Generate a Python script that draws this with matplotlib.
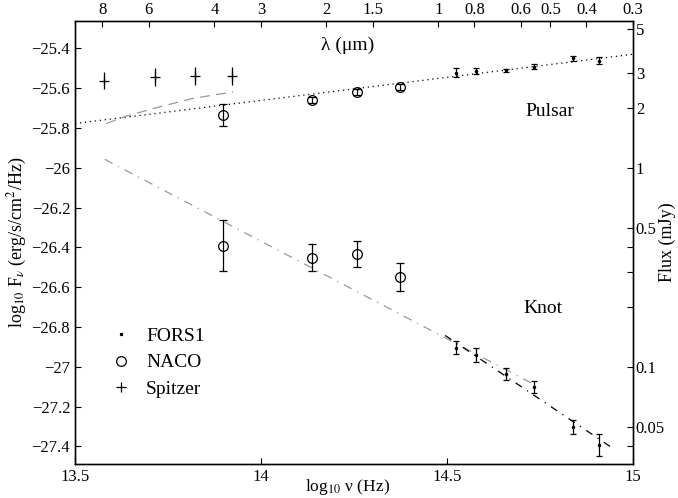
import numpy as np
import matplotlib
matplotlib.use("Agg")
import matplotlib.pyplot as plt
from matplotlib.lines import Line2D

plt.rcParams['font.family'] = ['Liberation Serif', 'DejaVu Serif']
plt.rcParams['mathtext.fontset'] = 'stix'

# frequencies (log10 nu, Hz)
nu_fors = [14.523, 14.578, 14.658, 14.733, 14.839, 14.909]
nu_naco = [13.897, 14.138, 14.257, 14.374]
nu_spitzer = [13.578, 13.716, 13.823, 13.923]

# pulsar fluxes, log10 F_nu (erg/s/cm2/Hz)
psr_fors = [-25.522, -25.514, -25.509, -25.492, -25.450, -25.462]
psr_fors_err = [0.023, 0.015, 0.008, 0.012, 0.012, 0.017]
psr_naco = [-25.735, -25.660, -25.620, -25.593]
psr_naco_err = [0.057, 0.016, 0.015, 0.016]
psr_spitzer = [-25.563, -25.543, -25.538, -25.539]
psr_spitzer_err = [0.043, 0.044, 0.044, 0.044]

# knot fluxes
knot_fors = [-26.903, -26.941, -27.037, -27.102, -27.300, -27.393]
knot_fors_err = [0.033, 0.035, 0.029, 0.031, 0.035, 0.057]
knot_naco = [-26.391, -26.451, -26.434, -26.550]
knot_naco_err = [0.128, 0.067, 0.066, 0.071]

# fitted / model curves
psr_fit_x = [13.5, 15.0]
psr_fit_y = [-25.777, -25.429]
psr_ir_x = [13.584, 13.638, 13.728, 13.817, 13.925]
psr_ir_y = [-25.777, -25.740, -25.693, -25.651, -25.618]
knot_fit_x = [13.580, 14.74]
knot_fit_y = [-25.957, -27.094]
knot_opt_x = [14.495, 14.952]
knot_opt_y = [-26.842, -27.417]

# top axis (wavelength, micron) and right axis (flux, mJy)
lam_ticks = [8, 6, 4, 3, 2, 1.5, 1, 0.8, 0.6, 0.5, 0.4, 0.3]
flux_ticks = [5, 3, 2, 1, 0.5, 0.4, 0.3, 0.2, 0.1, 0.05, 0.04]
flux_labels = ['5', '3', '2', '1', '0.5', '', '', '', '0.1', '0.05', '']

fig = plt.figure(figsize=(6.78, 4.98), dpi=100)
ax = fig.add_axes([0.1106, 0.0683, 0.823, 0.8895])

ax.plot(psr_fit_x, psr_fit_y, color='k', ls=(0, (1, 3)), lw=0.9)
ax.plot(psr_ir_x, psr_ir_y, color='0.6', ls=(0, (8, 5)), lw=0.9)
ax.plot(knot_fit_x, knot_fit_y, color='0.6', ls=(0, (7, 5, 1, 5)), lw=0.9)
ax.plot(knot_opt_x, knot_opt_y, color='k', ls=(0, (6, 5, 1, 5)), lw=0.9)

ekw = dict(color='k', elinewidth=0.9, capthick=0.9, ls='none')
ax.errorbar(nu_fors, psr_fors, yerr=psr_fors_err, fmt='.', ms=3, capsize=2, **ekw)
ax.errorbar(nu_fors, knot_fors, yerr=knot_fors_err, fmt='.', ms=3, capsize=2, **ekw)
ax.errorbar(nu_naco, psr_naco, yerr=psr_naco_err, fmt='o', ms=7, mfc='none',
            mew=0.9, capsize=3, **ekw)
ax.errorbar(nu_naco, knot_naco, yerr=knot_naco_err, fmt='o', ms=7, mfc='none',
            mew=0.9, capsize=3, **ekw)
ax.errorbar(nu_spitzer, psr_spitzer, yerr=psr_spitzer_err, fmt='+', ms=7,
            mew=0.9, capsize=0, **ekw)

ax.set_xlim(13.5, 15.0)
ax.set_ylim(-27.488, -25.262)
ax.set_xticks([13.5, 14, 14.5, 15])
ax.set_xticklabels(['13.5', '14', '14.5', '15'])
yt = np.round(np.arange(-27.4, -25.3, 0.2), 1)
ax.set_yticks(yt)
ax.set_yticklabels([('%g' % v).replace('-', '\u2212') for v in yt])
ax.tick_params(direction='in', length=4, labelsize=12, width=0.8)
ax.set_xlabel('log$_{10}$ \u03bd (Hz)', fontsize=12.5)
ax.xaxis.set_label_coords(0.489, -0.03)
ax.set_ylabel('log$_{10}$ F$_\u03bd$ (erg/s/cm$^2$/Hz)', fontsize=13, labelpad=2)

# top: wavelength
c = 2.998e14
ax2 = ax.twiny()
ax2.set_xlim(ax.get_xlim())
ax2.set_xticks(np.log10(c / np.array(lam_ticks)))
ax2.set_xticklabels(['%g' % l for l in lam_ticks])
ax2.tick_params(direction='in', length=4, labelsize=12, width=0.8, pad=2)

# right: flux in mJy
ax3 = ax.twinx()
ax3.set_ylim(ax.get_ylim())
ax3.set_yticks(np.log10(flux_ticks) - 26)
ax3.set_yticklabels(flux_labels)
ax3.tick_params(direction='in', length=4, labelsize=12, width=0.8, pad=2)
ax3.set_ylabel('Flux (mJy)', fontsize=13)
ax3.yaxis.set_label_coords(1.046, 0.5)

for a in (ax, ax2, ax3):
    for s in a.spines.values():
        s.set_linewidth(0.9)

ax.text(0.489, 0.946, '\u03bb (\u03bcm)', transform=ax.transAxes, fontsize=14,
        ha='center', va='center')
ax.text(0.851, 0.795, 'Pulsar', transform=ax.transAxes, fontsize=14,
        ha='center', va='center')
ax.text(0.839, 0.352, 'Knot', transform=ax.transAxes, fontsize=14,
        ha='center', va='center')

handles = [Line2D([], [], color='k', marker='.', ms=3, ls='none'),
           Line2D([], [], color='k', marker='o', ms=7, mfc='none', mew=0.9, ls='none'),
           Line2D([], [], color='k', marker='+', ms=7, mew=0.9, ls='none')]
ax.legend(handles, ['FORS1', 'NACO', 'Spitzer'], loc='lower left',
          bbox_to_anchor=(0.03, 0.11), frameon=False, fontsize=14,
          handlelength=1.2, handletextpad=0.7, labelspacing=0.45)

fig.savefig('out.png', dpi=100)
